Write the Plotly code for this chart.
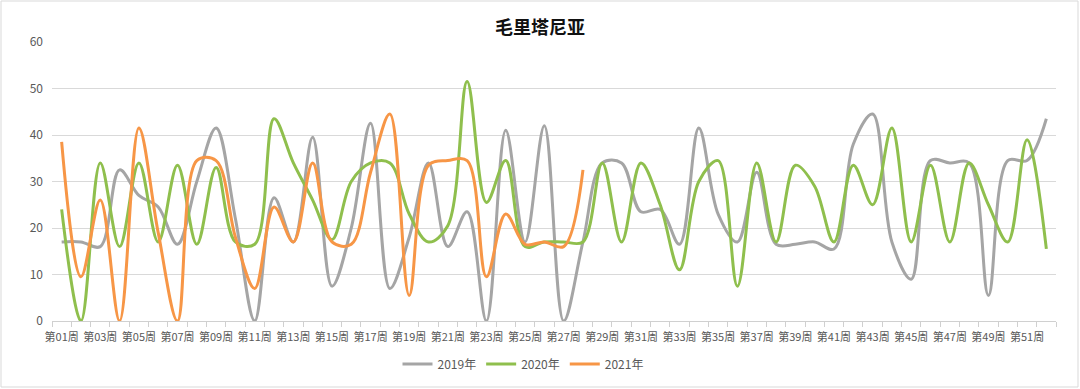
import plotly.graph_objects as go

weeks = [f"第{i:02d}周" for i in range(1, 53)]

y2019 = [17, 17, 16, 32.5, 27, 24.5, 16.5, 30, 41.5, 22,
         0, 26.5, 17, 39.5, 7.5, 20, 42.5, 7, 18, 34,
         16, 23.5, 0, 41, 17, 42, 0, 17, 34, 34,
         23.5, 24, 16.5, 41.5, 23, 17, 32, 16.5, 16.5, 17,
         15.5, 38, 44.5, 17, 9, 34.5, 34, 34, 5.5, 34.5,
         34.5, 43.5]
y2020 = [24, 0, 34, 16, 34, 17, 33.5, 16.5, 33, 17,
         16.5, 43.5, 34, 26, 17.5, 30, 34, 34, 23, 17,
         20.5, 51.5, 25.5, 34.5, 16, 17, 17, 17, 34, 17,
         34, 25, 11, 30, 34.5, 7.5, 34, 17, 33.5, 29,
         17, 33.5, 25, 41.5, 17, 33.5, 17, 34, 25, 17,
         39, 15.5]
y2021 = [38.5, 9.5, 26, 0, 41.5, 19, 0, 34.5, 34.5, 18,
         7, 24.5, 17, 34, 17, 16.5, 32, 44.5, 5.5, 33.5,
         34.5, 34.5, 9.5, 23, 16.5, 17, 16, 32.5]

series = [("2019年", y2019, "#A5A5A5"),
          ("2020年", y2020, "#8FBF4D"),
          ("2021年", y2021, "#F79646")]

week_idx = list(range(1, len(weeks) + 1))

fig = go.Figure()
for name, vals, color in series:
    fig.add_trace(go.Scatter(
        x=week_idx[:len(vals)], y=vals, name=name, mode="lines",
        line=dict(color=color, width=3, shape="spline", smoothing=1.0),
        hoverinfo="skip"))

W, H = 1080, 389
ml, mr, mt, mb = 52, 24, 42, 68
pw, ph = W - ml - mr, H - mt - mb

fig.update_layout(
    width=W, height=H,
    margin=dict(l=ml, r=mr, t=mt, b=mb, autoexpand=False),
    paper_bgcolor="white", plot_bgcolor="white",
    font=dict(family="Noto Sans CJK SC, Noto Sans, sans-serif", color="#595959", size=12),
    title=dict(text="<b>毛里塔尼亚</b>", x=0.5, xanchor="center",
               y=1 - 28 / H, yanchor="middle",
               font=dict(size=18, color="#111111", family="Noto Sans CJK SC")),
    showlegend=True,
    legend=dict(orientation="h", x=(523 - ml) / pw, xanchor="center",
                y=-43 / ph, yanchor="middle",
                font=dict(size=12, color="#595959"),
                itemwidth=30, tracegroupgap=0),
    xaxis=dict(range=[0.5, 52.5], tickmode="array",
               tickvals=week_idx[::2], ticktext=weeks[::2],
               tickangle=0, ticks="", showgrid=False, zeroline=False,
               showline=True, linecolor="#D0D0D0", linewidth=1,
               tickfont=dict(size=11, color="#595959"),
               ticklabelstandoff=6,
               minor=dict(tickmode="linear", tick0=0.5, dtick=1,
                          ticks="outside", ticklen=5, tickcolor="#D0D0D0",
                          showgrid=False)),
    yaxis=dict(range=[0, 60], dtick=10, showgrid=True, gridcolor="#D9D9D9",
               gridwidth=1, zeroline=False, showline=False, ticks="",
               tickfont=dict(size=12, color="#595959"), ticklabelstandoff=8),
    shapes=[dict(type="rect", xref="paper", yref="paper",
                 x0=-(ml - 1) / pw, x1=(pw + mr - 2) / pw,
                 y0=-(mb - 2) / ph, y1=(ph + mt - 1) / ph,
                 line=dict(color="#D9D9D9", width=1), layer="below")],
)

fig.write_html("out.html",
               config={"displayModeBar": False},
               post_script="document.body.style.margin='0';document.body.style.overflow='hidden';")
